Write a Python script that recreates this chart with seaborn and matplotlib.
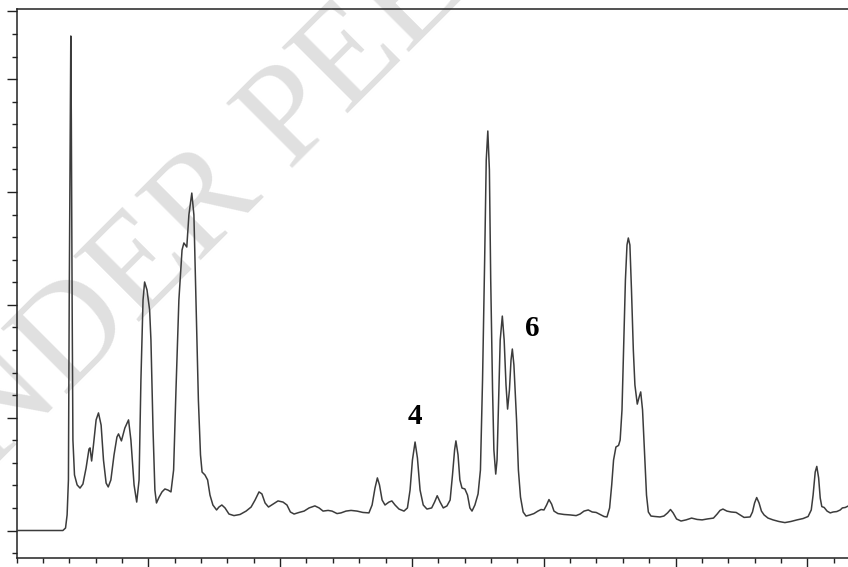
import pandas as pd
import seaborn as sns
import matplotlib.pyplot as plt
from matplotlib.ticker import MultipleLocator, FixedLocator

# retention time (arbitrary minutes) and detector signal
time = [0.00, 1.76, 1.86, 1.92, 1.97, 2.00, 2.04, 2.06, 2.08, 2.11, 2.14, 2.20, 2.30, 2.41,
        2.52, 2.64, 2.75, 2.79, 2.85, 2.92, 3.02, 3.11, 3.21, 3.30, 3.40, 3.48, 3.58, 3.70,
        3.81, 3.87, 3.98, 4.11, 4.25, 4.34, 4.46, 4.56, 4.65, 4.72, 4.80, 4.86, 4.95, 5.05,
        5.10, 5.18, 5.25, 5.31, 5.41, 5.52, 5.63, 5.75, 5.86, 5.96, 6.05, 6.16, 6.28, 6.35,
        6.46, 6.54, 6.65, 6.73, 6.81, 6.90, 6.98, 7.04, 7.15, 7.25, 7.34, 7.45, 7.59, 7.68,
        7.79, 7.91, 8.06, 8.25, 8.48, 8.71, 8.90, 9.05, 9.20, 9.31, 9.43, 9.56, 9.73, 9.92,
        10.11, 10.26, 10.39, 10.53, 10.72, 10.91, 11.10, 11.32, 11.48, 11.63, 11.82, 11.97,
        12.16, 12.31, 12.50, 12.69, 12.92, 13.14, 13.37, 13.49, 13.60, 13.69, 13.77, 13.87,
        13.98, 14.13, 14.24, 14.36, 14.51, 14.70, 14.83, 14.93, 15.02, 15.12, 15.21, 15.31,
        15.43, 15.57, 15.75, 15.86, 15.96, 16.07, 16.19, 16.33, 16.45, 16.54, 16.62, 16.67,
        16.75, 16.82, 16.90, 17.01, 17.11, 17.20, 17.28, 17.39, 17.51, 17.60, 17.68, 17.76,
        17.82, 17.88, 17.94, 17.99, 18.06, 18.11, 18.18, 18.23, 18.29, 18.35, 18.43, 18.50,
        18.57, 18.63, 18.70, 18.76, 18.81, 18.87, 18.97, 19.04, 19.12, 19.22, 19.33, 19.48,
        19.63, 19.78, 19.90, 20.01, 20.11, 20.20, 20.30, 20.39, 20.54, 20.77, 21.00, 21.23,
        21.38, 21.53, 21.69, 21.84, 21.99, 22.14, 22.29, 22.40, 22.50, 22.58, 22.65, 22.74,
        22.84, 22.90, 22.97, 23.03, 23.10, 23.16, 23.21, 23.27, 23.33, 23.40, 23.46, 23.55,
        23.62, 23.68, 23.75, 23.82, 23.90, 23.97, 24.07, 24.22, 24.41, 24.56, 24.70, 24.81,
        24.91, 25.04, 25.21, 25.40, 25.61, 25.82, 26.01, 26.20, 26.44, 26.58, 26.69, 26.80,
        26.95, 27.11, 27.30, 27.45, 27.60, 27.83, 27.92, 28.00, 28.08, 28.17, 28.26, 28.36,
        28.51, 28.70, 28.92, 29.15, 29.38, 29.61, 29.84, 30.03, 30.15, 30.22, 30.30, 30.36,
        30.43, 30.49, 30.55, 30.64, 30.75, 30.87, 30.98, 31.12, 31.25, 31.33, 31.44, 31.56]

signal = [0.00, 0.00, 0.11, 0.69, 2.24, 10.20, 18.20, 21.91, 18.18, 10.21, 4.01, 2.46, 2.02, 1.88,
          2.06, 2.77, 3.61, 3.66, 3.08, 3.79, 4.90, 5.21, 4.67, 3.12, 2.10, 1.93, 2.24, 3.35,
          4.14, 4.28, 3.97, 4.54, 4.90, 4.01, 2.02, 1.26, 2.24, 6.67, 10.21, 11.01, 10.66, 9.77,
          8.44, 4.45, 1.79, 1.22, 1.48, 1.71, 1.84, 1.79, 1.71, 2.68, 6.23, 10.21, 12.43, 12.74,
          12.56, 13.98, 14.95, 13.98, 10.21, 5.78, 3.35, 2.59, 2.46, 2.24, 1.57, 1.13, 0.91, 1.04,
          1.13, 1.00, 0.73, 0.66, 0.71, 0.86, 1.04, 1.35, 1.71, 1.62, 1.22, 1.04, 1.17, 1.31,
          1.26, 1.13, 0.82, 0.73, 0.80, 0.86, 1.00, 1.09, 1.00, 0.86, 0.89, 0.86,
          0.75, 0.78, 0.86, 0.89, 0.86, 0.80, 0.78, 1.13, 1.88, 2.33, 2.02, 1.35,
          1.13, 1.26, 1.31, 1.13, 0.95, 0.86, 1.00, 1.79, 3.12, 3.92, 3.21, 1.79,
          1.13, 0.95, 1.00, 1.26, 1.54, 1.26, 1.00, 1.09, 1.35, 2.46, 3.57, 3.97,
          3.35, 2.24, 1.88, 1.84, 1.57, 1.00, 0.86, 1.13, 1.62, 2.68, 6.67, 11.99,
          16.41, 17.70, 15.98, 11.10, 6.23, 3.57, 2.50, 3.12, 5.78, 8.44, 9.50, 8.44,
          6.45, 5.38, 6.23, 7.55, 8.04, 7.33, 4.90, 2.68, 1.48, 0.82, 0.64, 0.69,
          0.75, 0.86, 0.93, 0.91, 1.13, 1.37, 1.17, 0.86, 0.75, 0.71, 0.69, 0.66,
          0.73, 0.86, 0.91, 0.82, 0.80, 0.71, 0.62, 0.60, 1.00, 2.02, 3.12, 3.70,
          3.77, 4.01, 5.34, 8.00, 11.10, 12.65, 12.96, 12.65, 10.66, 8.00, 6.45, 5.60,
          5.91, 6.14, 5.34, 3.57, 1.57, 0.82, 0.64, 0.62, 0.60, 0.64, 0.78, 0.93,
          0.78, 0.51, 0.42, 0.47, 0.55, 0.49, 0.47, 0.51, 0.55, 0.73, 0.89, 0.95,
          0.86, 0.82, 0.80, 0.69, 0.58, 0.60, 0.82, 1.22, 1.46, 1.22, 0.86, 0.69,
          0.55, 0.47, 0.40, 0.35, 0.40, 0.47, 0.53, 0.62, 0.91, 1.57, 2.59, 2.84,
          2.33, 1.44, 1.06, 1.02, 0.86, 0.78, 0.82, 0.84, 0.91, 1.00, 1.02, 1.09]

peak_labels = ["4", "6"]
label_time = [15.12, 19.58]
label_signal = [5.07, 8.96]

df = pd.DataFrame({"time": time, "signal": signal})

sns.set_style("ticks")
fig = plt.figure(figsize=(8.48, 5.67), dpi=100)
# axes box: left spine at 16.5 px, top at 9 px, bottom at 557.5 px, right side cut off
ax = fig.add_axes([16.5 / 848, 1 - 557.5 / 567, 1.0, (557.5 - 9) / 567])

sns.lineplot(data=df, x="time", y="signal", estimator=None, sort=False,
             color="#3c3c3c", linewidth=1.1, ax=ax, zorder=3)

for lab, tx, ty in zip(peak_labels, label_time, label_signal):
    ax.text(tx, ty, lab, ha="center", va="center", fontsize=21, fontweight="bold",
            family="Liberation Serif", color="black")

# faint review watermark behind the trace (cut by the figure edge, as in the source)
ax.text(-80 / 848, 1 - 542 / 567, "UNDER PEER REVIEW", transform=fig.transFigure,
        rotation=45, rotation_mode="anchor", ha="left", va="baseline",
        fontsize=102, family="Liberation Serif", color="#e0e0e0", zorder=0.5, clip_on=False)

ax.set_xlim(0, 848 / 26.36)
ax.set_ylim(-(557.5 - 530.5) / 22.57, (530.5 - 9) / 22.57)

ax.xaxis.set_major_locator(FixedLocator([5, 10, 15, 20, 25, 30]))
ax.xaxis.set_minor_locator(MultipleLocator(1))
ax.yaxis.set_major_locator(FixedLocator([0, 5, 10, 15, 20, 23]))
ax.yaxis.set_minor_locator(FixedLocator(list(range(-1, 24))))
ax.tick_params(axis="x", which="major", direction="out", length=6.5, width=1.0, color="#222222")
ax.tick_params(axis="x", which="minor", direction="out", length=3.6, width=1.0, color="#222222")
ax.tick_params(axis="y", which="major", direction="out", length=7, width=1.0, color="#222222")
ax.tick_params(axis="y", which="minor", direction="out", length=3.3, width=1.0, color="#222222")
ax.tick_params(labelbottom=False, labelleft=False)
ax.set_xlabel("")
ax.set_ylabel("")

for side in ["left", "top", "bottom"]:
    ax.spines[side].set_color("#222222")
    ax.spines[side].set_linewidth(1.1)
ax.spines["right"].set_visible(False)

fig.savefig("out.png", dpi=100)
